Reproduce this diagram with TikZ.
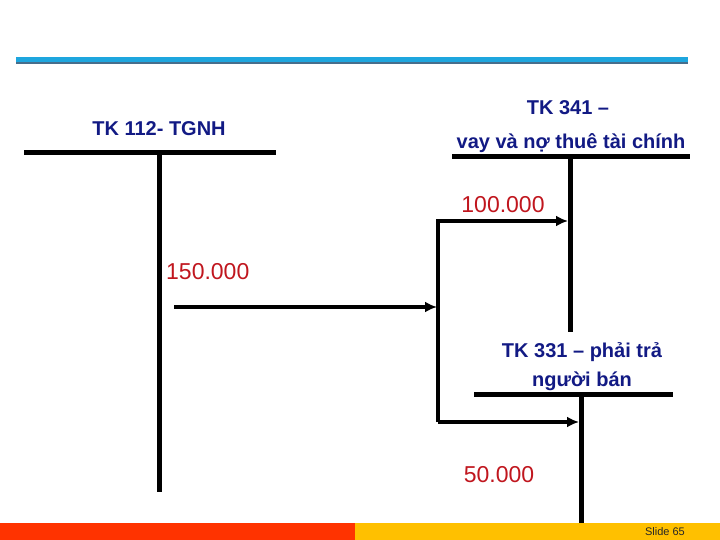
\documentclass[tikz,border=0pt]{standalone}
\usepackage{fontspec}
\setmainfont{Liberation Sans}
\usepackage{xcolor}
\usetikzlibrary{arrows.meta}
\usetikzlibrary{positioning}
\definecolor{titleblue}{RGB}{18,26,132}
\definecolor{amtred}{RGB}{192,22,30}
\definecolor{ruleblue}{RGB}{30,166,222}
\definecolor{ruleshade}{RGB}{70,110,140}
\definecolor{barred}{RGB}{255,51,0}
\definecolor{baryellow}{RGB}{255,192,0}

\begin{document}
\begin{tikzpicture}[x=1pt, y=-1pt,
  title/.style={font=\bfseries\fontsize{20}{24}\selectfont, text=titleblue, inner sep=0pt},
  amount/.style={font=\fontsize{23}{27}\selectfont, text=amtred, inner sep=0pt},
  tline/.style={line width=5pt},
  flow/.style={line width=4pt, -{Latex[length=12pt,width=11pt]}}]
  \useasboundingbox (0,0) rectangle (720,540);
  % top rule
  \fill[ruleblue] (16,57) rectangle (688,62);
  \fill[ruleshade] (16,62) rectangle (688,64.5);
  % TK 112
  \node[title] (t112) at (159,129) {TK 112- TGNH};
  \coordinate (a112) at (159,153);
  \draw[tline] (24,153) -- (276,153);
  \draw[tline] (a112) -- (159,492);
  % TK 341
  \node[title] (t341a) at (568,108) {TK 341 –};
  \node[title] (t341b) at (571,143) {vay và nợ thuê tài chính};
  \coordinate (a341) at (570,157);
  \draw[tline] (452,157) -- (690,157);
  \draw[tline] (a341) -- (570,332);
  % TK 331
  \node[title] (t331a) at (582,352) {TK 331 – phải trả};
  \node[title] (t331b) at (582,381) {người bán};
  \coordinate (a331) at (581,394);
  \draw[tline] (474,394) -- (673,394);
  \draw[tline] (a331) -- (581,524);
  % flows
  \coordinate (c1) at (438,221);
  \coordinate (c2) at (438,422);
  \coordinate (s150) at (174,307);
  \draw[flow] (c2) -- (c1) -- ([xshift=-2pt]c1 -| a341);
  \draw[flow] (c2) -- ([xshift=-2pt]c2 -| a331);
  \draw[flow] (s150) -- ([xshift=-1pt]s150 -| c1);
  \node[amount] (n100) at (503,205) {100.000};
  \node[amount, anchor=west] (n150) at (166,272) {150.000};
  \node[amount] (n50) at (499,475) {50.000};
  % bottom bar
  \fill[barred] (0,523) rectangle (355,540);
  \fill[baryellow] (355,523) rectangle (720,540);
  \node[font=\fontsize{11}{13}\selectfont, text=black!85] (slide) at (665,532) {Slide 65};
\end{tikzpicture}
\end{document}
